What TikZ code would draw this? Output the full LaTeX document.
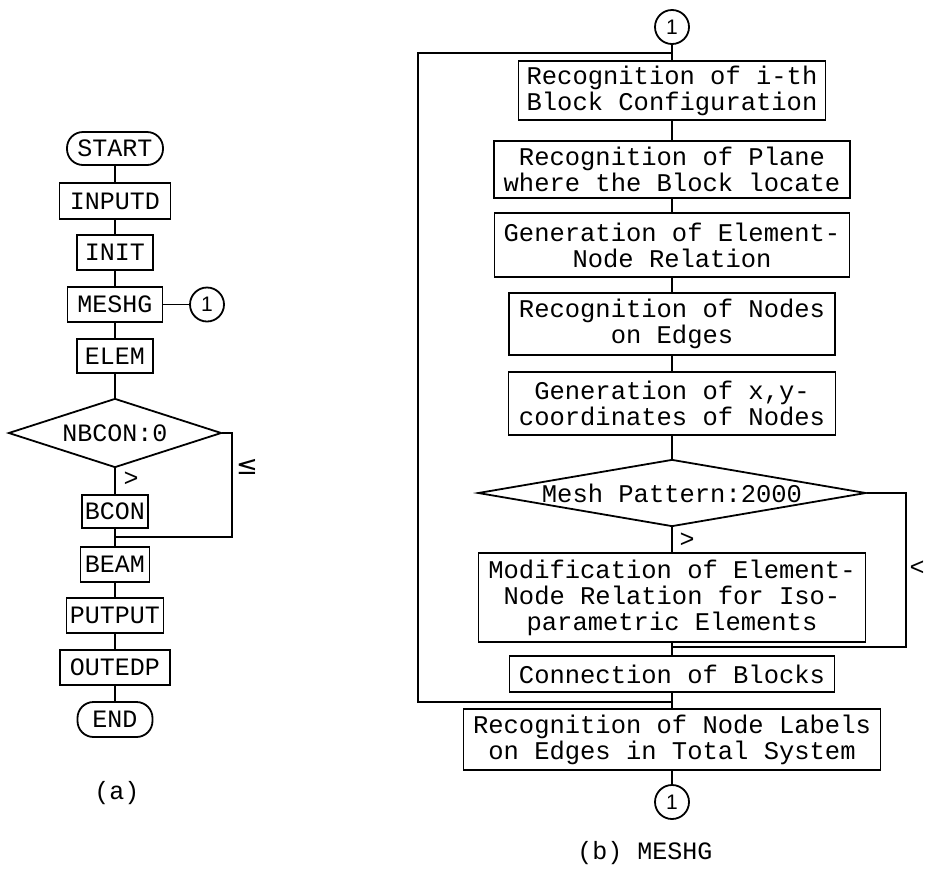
\documentclass[tikz,border=0pt]{standalone}
\usepackage{fontspec}
\setmainfont{Liberation Mono}
\newfontfamily\symfont{DejaVu Sans}
\newfontfamily\numfont{Liberation Sans}
\usetikzlibrary{shapes.geometric}
\begin{document}
\begin{tikzpicture}[x=1pt,y=-1pt,line width=1.8pt,
  box/.style={draw,rectangle,inner sep=0pt,align=center,font=\fontsize{25.5}{26}\selectfont},
  lbox/.style={draw,rectangle,inner sep=0pt,font=\fontsize{25}{26}\selectfont},
  term/.style={lbox,rounded corners=16pt},
  conn/.style={draw,circle,inner sep=0pt,minimum size=34pt,font=\numfont\fontsize{21}{22}\selectfont},
  dec/.style={draw,diamond,inner sep=0pt,font=\fontsize{25}{26}\selectfont},
  lab/.style={inner sep=0pt,font=\fontsize{25}{26}\selectfont}]
\useasboundingbox (0,0) rectangle (928,868);
% ---------- (a) ----------
\node[term,minimum width=96,minimum height=33] (start) at (115,148.5) {START};
\node[lbox,minimum width=111,minimum height=36] (inputd) at (115,201) {INPUTD};
\node[lbox,minimum width=76,minimum height=35] (init) at (115,252.5) {INIT};
\node[lbox,minimum width=95,minimum height=35] (meshg) at (115,304.5) {MESHG};
\node[conn] (ca) at (207,304.5) {1};
\node[lbox,minimum width=76,minimum height=34] (elem) at (115,356) {ELEM};
\node[dec,shape aspect=3.09,minimum width=213,minimum height=69] (d1) at (115,433) {NBCON:0};
\node[lbox,minimum width=66,minimum height=33] (bcon) at (115,511.5) {BCON};
\node[lbox,minimum width=69,minimum height=35] (beam) at (115,564.5) {BEAM};
\node[lbox,minimum width=97,minimum height=35] (putput) at (115,615.5) {PUTPUT};
\node[lbox,minimum width=110,minimum height=35] (outedp) at (115,667.5) {OUTEDP};
\node[term,minimum width=75,minimum height=35] (end) at (115,719.5) {END};
\node[lab] (la) at (117,793) {(a)};
\node[lab] (gt1) at (131,479) {>};
\node[inner sep=0pt,font=\symfont\fontsize{26}{28}\selectfont] (le1) at (247,467) {≤};
\coordinate (lr) at (232,537);
\coordinate (lj) at (115,537);
\draw (start) -- (inputd);
\draw (inputd) -- (init);
\draw (init) -- (meshg);
\draw (meshg) -- (ca);
\draw (meshg) -- (elem);
\draw (elem) -- (d1);
\draw (d1) -- (bcon);
\draw (bcon) -- (beam);
\draw (beam) -- (putput);
\draw (putput) -- (outedp);
\draw (outedp) -- (end);
\draw (d1.east) -| (lr) -- (lj);
% ---------- (b) ----------
\node[conn] (ct) at (672,27) {1};
\node[box,minimum width=307,minimum height=59] (b1) at (672,90.5) {Recognition of i-th\\Block Configuration};
\node[box,minimum width=356,minimum height=57] (b2) at (672,169.5) {Recognition of Plane\\where the Block locate};
\node[box,minimum width=355,minimum height=64] (b3) at (672,245) {Generation of Element-\\Node Relation};
\node[box,minimum width=326,minimum height=62] (b4) at (672,324) {Recognition of Nodes\\on Edges};
\node[box,minimum width=327,minimum height=63] (b5) at (672,403.5) {Generation of x,y-\\coordinates of Nodes};
\node[dec,shape aspect=5.8,minimum width=388,minimum height=67,font=\fontsize{25.5}{26}\selectfont] (d2) at (672,493) {Mesh Pattern:2000};
\node[box,minimum width=387,minimum height=89] (b6) at (672,597.5) {Modification of Element-\\Node Relation for Iso-\\parametric Elements};
\node[box,minimum width=325,minimum height=36] (b7) at (672,674) {Connection of Blocks};
\node[box,minimum width=417,minimum height=61] (b8) at (672,739.5) {Recognition of Node Labels\\on Edges in Total System};
\node[conn] (cb) at (672,802) {1};
\node[lab] (lb) at (645,853) {(b) MESHG};
\node[lab] (gt2) at (687,540) {>};
\node[lab] (lt2) at (917,568) {<};
\coordinate (j1) at (672,53);
\coordinate (j2) at (672,702);
\coordinate (j3) at (672,647);
\coordinate (rr) at (906,647);
\coordinate (ll) at (418,702);
\draw (ct) -- (b1);
\draw (b1) -- (b2);
\draw (b2) -- (b3);
\draw (b3) -- (b4);
\draw (b4) -- (b5);
\draw (b5) -- (d2);
\draw (d2) -- (b6);
\draw (b6) -- (b7);
\draw (b7) -- (b8);
\draw (b8) -- (cb);
\draw (d2.east) -| (rr) -- (j3);
\draw (j2) -- (ll) |- (j1);
\end{tikzpicture}
\end{document}
